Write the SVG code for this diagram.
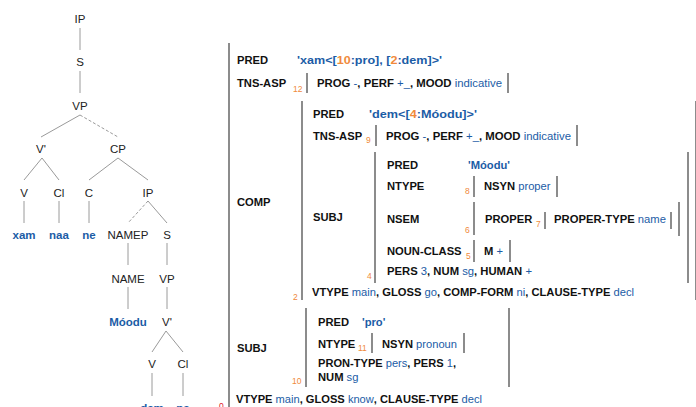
<svg xmlns="http://www.w3.org/2000/svg" width="696" height="407" viewBox="0 0 696 407">
<style>
text{font-family:"Liberation Sans",Arial,sans-serif}
.t{font-size:11.5px;fill:#222;text-anchor:middle}
.w{font-size:11.5px;font-weight:bold;fill:#1b5ca6;text-anchor:middle}
.a{font-size:11.2px;font-weight:bold;fill:#111}
.v{font-weight:normal;fill:#1b5ca6}
.q{font-weight:bold;fill:#1b5ca6}
.oq{font-weight:bold;fill:#f08a3c}
.o{font-size:8.5px;fill:#f08a3c}
.r{font-size:8.5px;fill:#e0202a}
.e{stroke:#9a9a9a;stroke-width:1;fill:none}
.d{stroke-dasharray:3,2}
.b{stroke:#8c8c8c;stroke-width:2;fill:none}
</style>
<rect width="696" height="407" fill="#fff"/>
<g id="connectors">
<line class="e" x1="80" y1="28" x2="80" y2="50"/>
<line class="e" x1="80" y1="71" x2="80" y2="93"/>
<line class="e" x1="80" y1="115" x2="41" y2="137"/>
<line class="e d" x1="80" y1="115" x2="118" y2="137"/>
<line class="e" x1="42" y1="158" x2="24" y2="180"/>
<line class="e" x1="42" y1="158" x2="59" y2="180"/>
<line class="e" x1="118" y1="158" x2="89" y2="180"/>
<line class="e" x1="118" y1="158" x2="148" y2="180"/>
<line class="e" x1="24" y1="201" x2="24" y2="223"/>
<line class="e" x1="59" y1="201" x2="59" y2="223"/>
<line class="e" x1="89" y1="201" x2="89" y2="223"/>
<line class="e d" x1="148" y1="201" x2="128" y2="223"/>
<line class="e" x1="148" y1="201" x2="167" y2="223"/>
<line class="e" x1="128" y1="243" x2="128" y2="265"/>
<line class="e" x1="167" y1="243" x2="167" y2="265"/>
<line class="e" x1="128" y1="287" x2="128" y2="309"/>
<line class="e" x1="167" y1="287" x2="167" y2="309"/>
<line class="e" x1="166" y1="331" x2="152" y2="352"/>
<line class="e" x1="166" y1="331" x2="183" y2="352"/>
<line class="e" x1="152" y1="373" x2="152" y2="396"/>
<line class="e" x1="183" y1="373" x2="183" y2="396"/>
</g>
<g id="tree">
<g id="n-ip1"><text class="t" x="80" y="23">IP</text></g>
<g id="n-s1"><text class="t" x="80" y="66">S</text></g>
<g id="n-vp1"><text class="t" x="80" y="110">VP</text></g>
<g id="n-vbar1"><text class="t" x="41" y="153">V'</text></g>
<g id="n-cp"><text class="t" x="118" y="153">CP</text></g>
<g id="n-v1"><text class="t" x="24" y="197">V</text></g>
<g id="n-cl1"><text class="t" x="59" y="197">Cl</text></g>
<g id="n-c"><text class="t" x="89" y="197">C</text></g>
<g id="n-ip2"><text class="t" x="148" y="197">IP</text></g>
<g id="n-xam"><text class="w" x="24" y="239">xam</text></g>
<g id="n-naa"><text class="w" x="59" y="239">naa</text></g>
<g id="n-ne"><text class="w" x="89" y="239">ne</text></g>
<g id="n-namep"><text class="t" x="128" y="239">NAMEP</text></g>
<g id="n-s2"><text class="t" x="167" y="239">S</text></g>
<g id="n-name"><text class="t" x="128" y="283">NAME</text></g>
<g id="n-vp2"><text class="t" x="167" y="283">VP</text></g>
<g id="n-moodu"><text class="w" x="128" y="326">Móodu</text></g>
<g id="n-vbar2"><text class="t" x="167" y="326">V'</text></g>
<g id="n-v2"><text class="t" x="152" y="368">V</text></g>
<g id="n-cl2"><text class="t" x="183" y="368">Cl</text></g>
<g id="n-dem"><text class="w" x="152" y="412">dem</text></g>
<g id="n-na"><text class="w" x="183" y="412">na</text></g>
</g>
<g id="fstructure">
<g id="brackets">
<line class="b" x1="229" y1="43" x2="229" y2="410"/>
<line class="b" x1="307" y1="73" x2="307" y2="93"/>
<line class="b" x1="508" y1="73" x2="508" y2="93"/>
<line class="b" x1="302" y1="101" x2="302" y2="300"/>
<line class="b" x1="696" y1="101" x2="696" y2="300"/>
<line class="b" x1="376" y1="125" x2="376" y2="146"/>
<line class="b" x1="577" y1="125" x2="577" y2="146"/>
<line class="b" x1="375" y1="152" x2="375" y2="283"/>
<line class="b" x1="688" y1="152" x2="688" y2="283"/>
<line class="b" x1="474" y1="176" x2="474" y2="197"/>
<line class="b" x1="557" y1="176" x2="557" y2="197"/>
<line class="b" x1="474" y1="202" x2="474" y2="235"/>
<line class="b" x1="679" y1="202" x2="679" y2="236"/>
<line class="b" x1="545" y1="212" x2="545" y2="229"/>
<line class="b" x1="671" y1="212" x2="671" y2="229"/>
<line class="b" x1="474" y1="240" x2="474" y2="262"/>
<line class="b" x1="510" y1="240" x2="510" y2="262"/>
<line class="b" x1="306" y1="308" x2="306" y2="387"/>
<line class="b" x1="509" y1="308" x2="509" y2="387"/>
<line class="b" x1="372" y1="333" x2="372" y2="353"/>
<line class="b" x1="464" y1="333" x2="464" y2="353"/>
</g>
<g id="f-root">
<text class="a" x="237" y="64">PRED</text>
<text class="a" x="297" y="64" textLength="145" lengthAdjust="spacingAndGlyphs"><tspan class="q">'xam&lt;[</tspan><tspan class="oq">10</tspan><tspan class="q">:pro], [</tspan><tspan class="oq">2</tspan><tspan class="q">:dem]&gt;'</tspan></text>
<text class="a" x="237" y="87">TNS-ASP</text>
<text class="o" x="293" y="92">12</text>
<text class="a" x="317" y="87" textLength="185" lengthAdjust="spacingAndGlyphs">PROG <tspan class="v">-</tspan>, PERF <tspan class="v">+_</tspan>, MOOD <tspan class="v">indicative</tspan></text>
<text class="a" x="237" y="206">COMP</text>
<text class="a" x="237" y="352">SUBJ</text>
<text class="a" x="236" y="403" textLength="246" lengthAdjust="spacingAndGlyphs">VTYPE <tspan class="v">main</tspan>, GLOSS <tspan class="v">know</tspan>, CLAUSE-TYPE <tspan class="v">decl</tspan></text>
<text class="r" x="219" y="409">0</text>
</g>
<g id="f-comp">
<text class="a" x="313" y="118">PRED</text>
<text class="a" x="369" y="118" textLength="108" lengthAdjust="spacingAndGlyphs"><tspan class="q">'dem&lt;[</tspan><tspan class="oq">4</tspan><tspan class="q">:Móodu]&gt;'</tspan></text>
<text class="a" x="313" y="140">TNS-ASP</text>
<text class="o" x="366" y="143">9</text>
<text class="a" x="386" y="140" textLength="185" lengthAdjust="spacingAndGlyphs">PROG <tspan class="v">-</tspan>, PERF <tspan class="v">+_</tspan>, MOOD <tspan class="v">indicative</tspan></text>
<text class="a" x="313" y="221">SUBJ</text>
<text class="o" x="367" y="279">4</text>
<text class="a" x="312" y="296" textLength="322" lengthAdjust="spacingAndGlyphs">VTYPE <tspan class="v">main</tspan>, GLOSS <tspan class="v">go</tspan>, COMP-FORM <tspan class="v">ni</tspan>, CLAUSE-TYPE <tspan class="v">decl</tspan></text>
<text class="o" x="293" y="300">2</text>
</g>
<g id="f-subj4">
<text class="a" x="387" y="169">PRED</text>
<text class="a q" x="468" y="169">'Móodu'</text>
<text class="a" x="387" y="190">NTYPE</text>
<text class="o" x="465" y="194">8</text>
<text class="a" x="484" y="190">NSYN <tspan class="v">proper</tspan></text>
<text class="a" x="387" y="223">NSEM</text>
<text class="o" x="465" y="233">6</text>
<text class="a" x="485" y="223">PROPER</text>
<text class="o" x="536" y="227">7</text>
<text class="a" x="554" y="223" textLength="112" lengthAdjust="spacingAndGlyphs">PROPER-TYPE <tspan class="v">name</tspan></text>
<text class="a" x="387" y="255">NOUN-CLASS</text>
<text class="o" x="466" y="259">5</text>
<text class="a" x="484" y="255">M <tspan class="v">+</tspan></text>
<text class="a" x="387" y="275" textLength="145" lengthAdjust="spacingAndGlyphs">PERS <tspan class="v">3</tspan>, NUM <tspan class="v">sg</tspan>, HUMAN <tspan class="v">+</tspan></text>
</g>
<g id="f-subj10">
<text class="a" x="318" y="326">PRED</text>
<text class="a q" x="362" y="326">'pro'</text>
<text class="a" x="318" y="348">NTYPE</text>
<text class="o" x="358" y="351">11</text>
<text class="a" x="382" y="348" textLength="75" lengthAdjust="spacingAndGlyphs">NSYN <tspan class="v">pronoun</tspan></text>
<text class="a" x="318" y="367" textLength="138" lengthAdjust="spacingAndGlyphs">PRON-TYPE <tspan class="v">pers</tspan>, PERS <tspan class="v">1</tspan>,</text>
<text class="a" x="318" y="381">NUM <tspan class="v">sg</tspan></text>
<text class="o" x="292" y="384">10</text>
</g>
</g>
</svg>
